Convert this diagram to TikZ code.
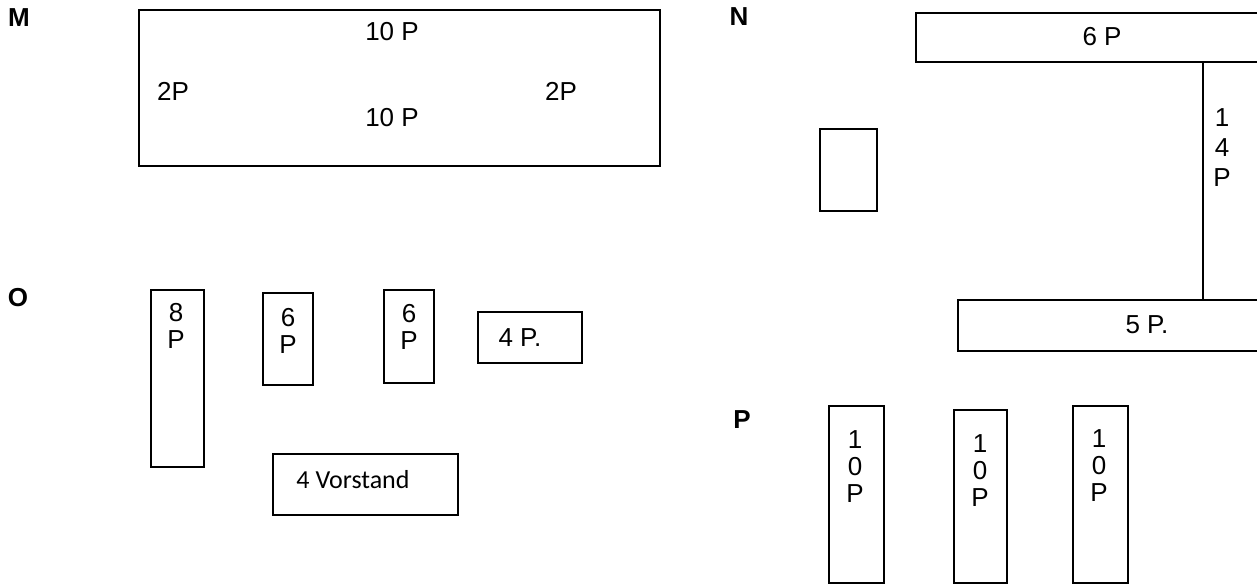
\documentclass[tikz,border=0pt]{standalone}
\usepackage{fontspec}
\setmainfont{Liberation Sans}
\newfontfamily\vorstandfont{Carlito}

\tikzset{every picture/.style={line width=1.6pt}}
\tikzset{
	table/.style={draw, inner sep=0pt, anchor=north west},
	seats/.style={font=\fontsize{26}{#1}\selectfont, align=center, inner sep=0pt},
	seats/.default=27,
	group/.style={font=\fontsize{26}{28}\selectfont\bfseries, inner sep=0pt}}

\begin{document}
\begin{tikzpicture}[x=1pt,y=1pt,yscale=-1,xscale=1]
	\useasboundingbox (0,0) rectangle (1257,584);
	\clip (0,0) rectangle (1257,584);

	% Group M
	\node[group] (labM) at (19,18) {M};
	\node[table, minimum width=521pt, minimum height=156pt] (tabM) at (138,9) {};
	\node[seats] (mTop) at (392,32) {10 P};
	\node[seats] (mLeft) at (173,91) {2P};
	\node[seats] (mRight) at (561,91) {2P};
	\node[seats] (mBottom) at (392,118) {10 P};

	% Group N
	\node[group] (labN) at (739,17) {N};
	\node[table, minimum width=400pt, minimum height=49pt] (tabSix) at (915,12) {};
	\node[seats] (nSix) at (1102,37) {6 P};
	\node[table, minimum width=57pt, minimum height=82pt] (tabSmall) at (819,128) {};
	\node[table, minimum width=400pt, minimum height=51pt] (tabFive) at (957,299) {};
	\node[seats] (nFive) at (1147,325) {5 P.};
	\coordinate (wall) at (1203,0);
	\draw (tabSix.south -| wall) -- (tabFive.north -| wall);
	\node[seats=30] (nFourteen) at (1222,148) {1\\4\\P};

	% Group O
	\node[group] (labO) at (18,298) {O};
	\node[table, minimum width=53pt, minimum height=177pt] (tabEight) at (150,289) {};
	\node[seats] (oEight) at (176,326) {8\\P};
	\node[table, minimum width=50pt, minimum height=92pt] (tabSixA) at (262,292) {};
	\node[seats] (oSixA) at (288,331) {6\\P};
	\node[table, minimum width=50pt, minimum height=93pt] (tabSixB) at (383,289) {};
	\node[seats] (oSixB) at (409,327) {6\\P};
	\node[table, minimum width=104pt, minimum height=51pt] (tabFour) at (477,311) {};
	\node[seats] (oFour) at (520,338) {4 P.};
	\node[table, minimum width=185pt, minimum height=61pt] (tabBoard) at (272,453) {};
	\node[inner sep=0pt, font=\vorstandfont\fontsize{26}{30}\selectfont] (oBoard) at (353,480) {4 Vorstand};

	% Group P
	\node[group] (labP) at (742,420) {P};
	\node[table, minimum width=55pt, minimum height=177pt] (tabTenA) at (828,405) {};
	\node[seats] (pTenA) at (855,467) {1\\0\\P};
	\node[table, minimum width=53pt, minimum height=173pt] (tabTenB) at (953,409) {};
	\node[seats] (pTenB) at (980,471) {1\\0\\P};
	\node[table, minimum width=55pt, minimum height=177pt] (tabTenC) at (1072,405) {};
	\node[seats] (pTenC) at (1099,466) {1\\0\\P};

\end{tikzpicture}
\end{document}
